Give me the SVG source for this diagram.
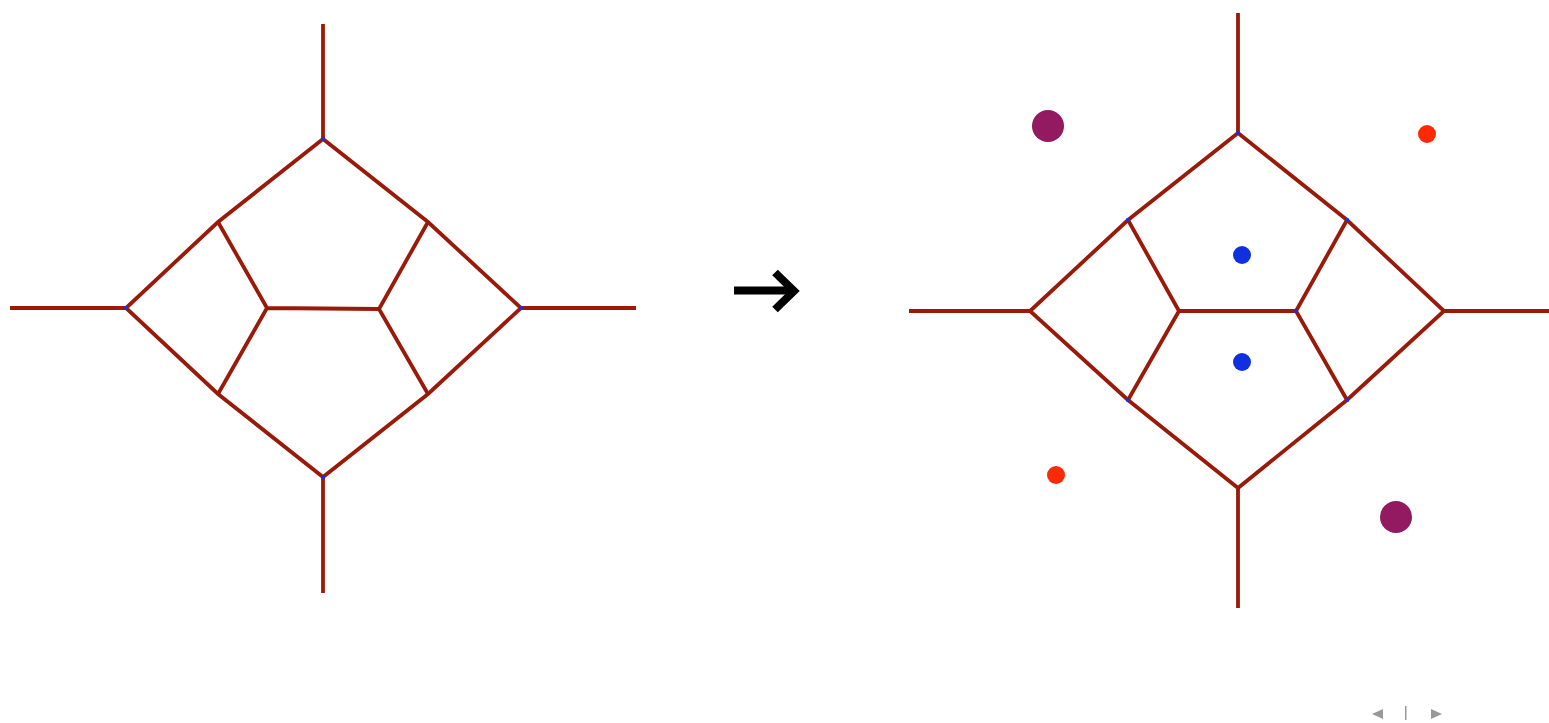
<svg xmlns="http://www.w3.org/2000/svg" width="1549" height="723" viewBox="0 0 1549 723">
  <style>
    .edge { stroke: #991a08; stroke-width: 3.8; fill: none; stroke-linecap: butt; stroke-linejoin: miter; }
    .vtx { fill: #1a2ee0; }
    .nav { fill: #999999; }
  </style>
  <rect width="1549" height="723" fill="#ffffff"/>

  <!-- left graph -->
  <g id="graph-left">
    <g id="graph-left-edges">
      <path class="edge" d="M323,24 V139 M323,477 V593 M10,308 H126 M521,308 H636"/>
      <path class="edge" d="M323,139 L218,222 L126,308 L218,394 L323,477 L428,394 L521,308 L428,222 Z"/>
      <path class="edge" d="M218,222 L267,308 L218,394 M267,308 L379,309 M428,222 L379,309 L428,394"/>
    </g>
    <g id="graph-left-vertices">
      <rect class="vtx" x="321.3" y="137.3" width="3.5" height="3.5"/>
      <rect class="vtx" x="321.3" y="475.3" width="3.5" height="3.5"/>
      <rect class="vtx" x="124.3" y="306.3" width="3.5" height="3.5"/>
      <rect class="vtx" x="519.3" y="306.3" width="3.5" height="3.5"/>
    </g>
  </g>

  <!-- transformation arrow -->
  <g id="arrow">
    <path d="M734,290.5 H792" stroke="#000000" stroke-width="8" fill="none"/>
    <path d="M775,272.5 L794,291 L775,309.5" stroke="#000000" stroke-width="8" fill="none" stroke-linejoin="miter"/>
  </g>

  <!-- right graph -->
  <g id="graph-right">
    <g id="graph-right-edges">
      <path class="edge" d="M1238,13 V133 M1238,488 V608 M909,311 H1030 M1444,311 H1549"/>
      <path class="edge" d="M1238,133 L1128,220 L1030,311 L1128,400 L1238,488 L1347,400 L1444,311 L1347,220 Z"/>
      <path class="edge" d="M1128,220 L1179,311 L1128,400 M1179,311 H1296 M1347,220 L1296,311 L1347,400"/>
    </g>
    <g id="graph-right-vertices">
      <rect class="vtx" x="1236.3" y="131.3" width="3.5" height="3.5"/>
      <rect class="vtx" x="1126.3" y="218.3" width="3.5" height="3.5"/>
      <rect class="vtx" x="1345.3" y="218.3" width="3.5" height="3.5"/>
      <rect class="vtx" x="1294.3" y="309.3" width="3.5" height="3.5"/>
      <rect class="vtx" x="1345.3" y="398.3" width="3.5" height="3.5"/>
      <rect class="vtx" x="1126.3" y="398.3" width="3.5" height="3.5"/>
    </g>
  </g>

  <!-- face points -->
  <g id="face-points">
    <circle id="pt-purple-1" cx="1048" cy="126" r="16" fill="#931960"/>
    <circle id="pt-purple-2" cx="1396" cy="517" r="16" fill="#931960"/>
    <circle id="pt-red-1" cx="1427" cy="134" r="9" fill="#ff2a05"/>
    <circle id="pt-red-2" cx="1056" cy="475" r="9" fill="#ff2a05"/>
    <circle id="pt-blue-1" cx="1242" cy="255" r="9" fill="#1030e0"/>
    <circle id="pt-blue-2" cx="1242" cy="362" r="9" fill="#1030e0"/>
  </g>

  <!-- slide navigation -->
  <g id="nav">
    <path class="nav" d="M1383,709 L1372,714 L1383,719 Z"/>
    <rect class="nav" x="1405" y="706" width="1.5" height="14"/>
    <path class="nav" d="M1431,709 L1442,714 L1431,719 Z"/>
  </g>
</svg>
